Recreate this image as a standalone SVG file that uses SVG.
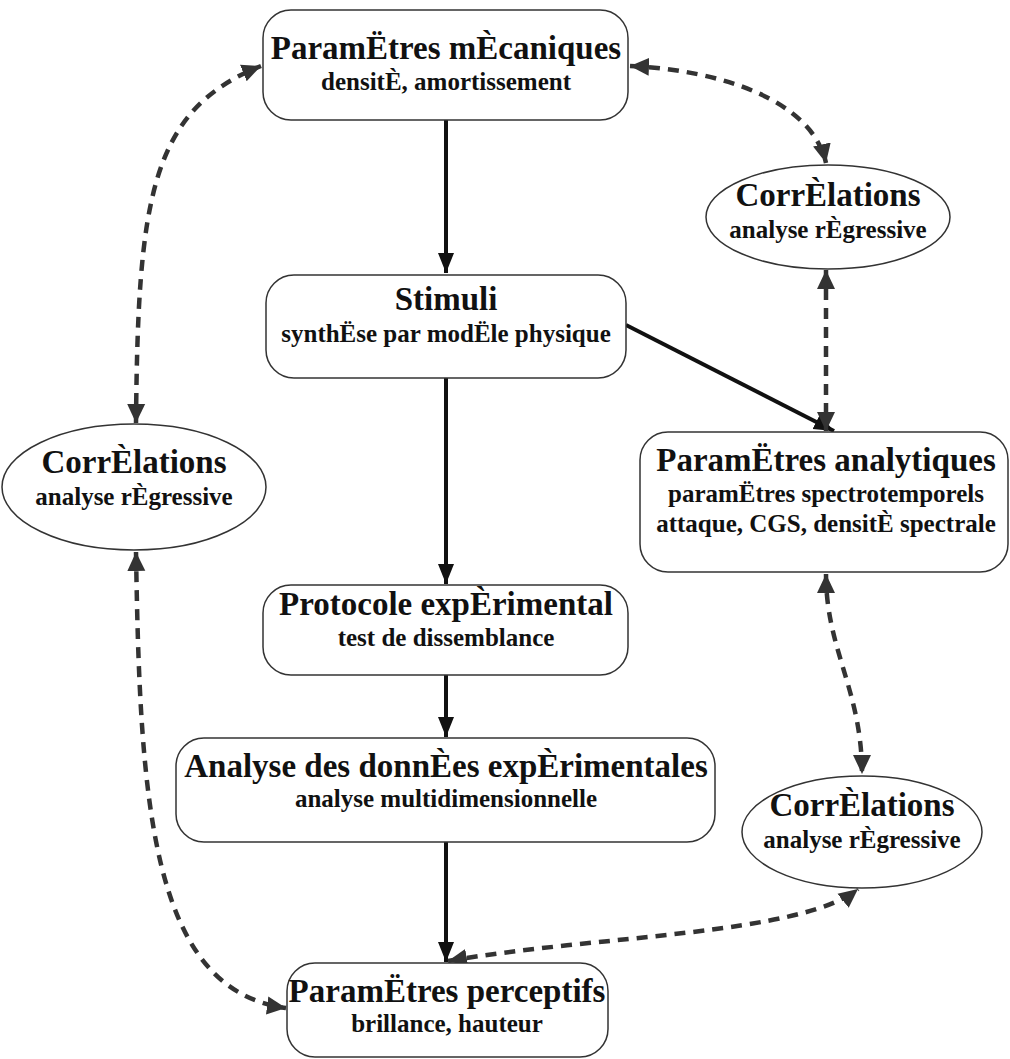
<svg xmlns="http://www.w3.org/2000/svg" width="1010" height="1059" viewBox="0 0 1010 1059">
<style>
.box{fill:#fff;stroke:#333;stroke-width:1.5}
.t{font-family:"Liberation Serif",serif;font-weight:bold;fill:#111;text-anchor:middle}
.h{font-size:33px}
.s{font-size:25px}
.solid{fill:none;stroke:#111;stroke-width:4}
.dash{fill:none;stroke:#333;stroke-width:4.5;stroke-dasharray:11 8}
</style>
<defs>
<marker id="as" markerUnits="userSpaceOnUse" markerWidth="22" markerHeight="22" refX="20" refY="10" orient="auto">
<path d="M0,2 L20,10 L0,18 Z" fill="#111"/>
</marker>
<marker id="ad" markerUnits="userSpaceOnUse" markerWidth="22" markerHeight="22" refX="19" refY="10" orient="auto-start-reverse">
<path d="M0,1 L19,10 L0,19 Z" fill="#333"/>
</marker>
</defs>
<rect width="1010" height="1059" fill="#fff"/>
<g id="connectors">
<path class="solid" d="M446,120 L446,273" marker-end="url(#as)"/>
<path class="solid" d="M446,378 L446,584" marker-end="url(#as)"/>
<path class="solid" d="M626,325 L834,431" marker-end="url(#as)"/>
<path class="solid" d="M446,675 L446,737" marker-end="url(#as)"/>
<path class="solid" d="M446,842 L446,962" marker-end="url(#as)"/>
<path class="dash" d="M136,423 C138,200 150,110 261,66" marker-start="url(#ad)" marker-end="url(#ad)"/>
<path class="dash" d="M630,66 C720,70 812,100 826,163" marker-start="url(#ad)" marker-end="url(#ad)"/>
<path class="dash" d="M826,270 L826,431" marker-start="url(#ad)" marker-end="url(#ad)"/>
<path class="dash" d="M826,574 C826,650 862,690 862,774" marker-start="url(#ad)" marker-end="url(#ad)"/>
<path class="dash" d="M448,961 C600,935 800,935 858,889" marker-start="url(#ad)" marker-end="url(#ad)"/>
<path class="dash" d="M136,552 C140,800 150,990 286,1008" marker-start="url(#ad)" marker-end="url(#ad)"/>
</g>
<g id="n1">
<rect class="box" x="263" y="10" width="365" height="110" rx="28"/>
<text class="t h" x="446" y="59">ParamËtres mÈcaniques</text>
<text class="t s" x="446" y="90">densitÈ, amortissement</text>
</g>
<g id="n2">
<ellipse class="box" cx="828" cy="217" rx="122" ry="52"/>
<text class="t h" x="828" y="206">CorrÈlations</text>
<text class="t s" x="828" y="238">analyse rÈgressive</text>
</g>
<g id="n3">
<rect class="box" x="266" y="275" width="360" height="103" rx="28"/>
<text class="t h" x="446" y="310">Stimuli</text>
<text class="t s" x="446" y="342">synthËse par modËle physique</text>
</g>
<g id="n4">
<ellipse class="box" cx="134" cy="487" rx="132" ry="63"/>
<text class="t h" x="134" y="473">CorrÈlations</text>
<text class="t s" x="134" y="505">analyse rÈgressive</text>
</g>
<g id="n5">
<rect class="box" x="640" y="432" width="368" height="140" rx="28"/>
<text class="t h" x="826" y="471">ParamËtres analytiques</text>
<text class="t s" x="826" y="502">paramËtres spectrotemporels</text>
<text class="t s" x="826" y="532">attaque, CGS, densitÈ spectrale</text>
</g>
<g id="n6">
<rect class="box" x="263" y="585" width="365" height="90" rx="28"/>
<text class="t h" x="446" y="615">Protocole expÈrimental</text>
<text class="t s" x="446" y="646">test de dissemblance</text>
</g>
<g id="n7">
<rect class="box" x="176" y="738" width="539" height="104" rx="28"/>
<text class="t h" x="446" y="777">Analyse des donnÈes expÈrimentales</text>
<text class="t s" x="446" y="807">analyse multidimensionnelle</text>
</g>
<g id="n8">
<ellipse class="box" cx="862" cy="832" rx="120" ry="56"/>
<text class="t h" x="862" y="816">CorrÈlations</text>
<text class="t s" x="862" y="848">analyse rÈgressive</text>
</g>
<g id="n9">
<rect class="box" x="287" y="963" width="321" height="94" rx="28"/>
<text class="t h" x="447" y="1002">ParamËtres perceptifs</text>
<text class="t s" x="447" y="1032">brillance, hauteur</text>
</g>
</svg>
